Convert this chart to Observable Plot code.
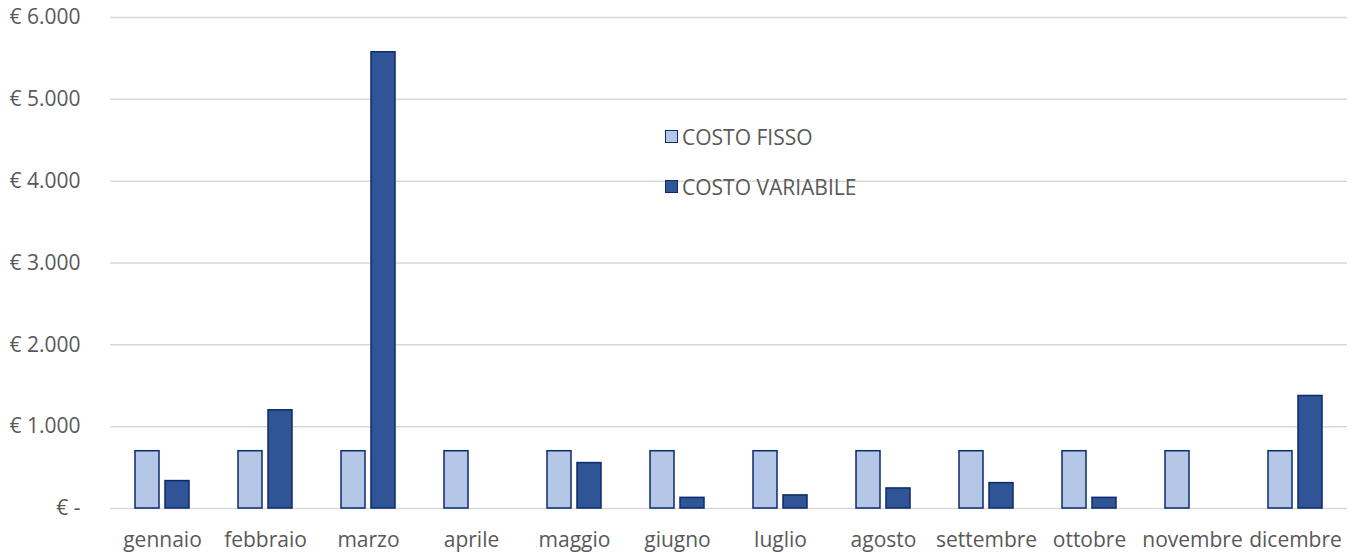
<!DOCTYPE html>
<html>
<head>
<meta charset="utf-8">
<script src="https://cdn.jsdelivr.net/npm/d3@7"></script>
<script src="https://cdn.jsdelivr.net/npm/@observablehq/plot@0.6"></script>
<style>
  html, body { margin: 0; padding: 0; background: #fff; }
  #wrap { position: relative; width: 1354px; height: 553px; font-family: "Open Sans", sans-serif; }
  #legend { position: absolute; left: 665px; top: 123px; color: #595959; font-size: 21px; }
  .item { display: flex; align-items: center; height: 27px; margin-bottom: 23px; }
  .sw { width: 11px; height: 11px; border: 1.5px solid #0B2A6B; margin-right: 4px; }
</style>
</head>
<body>
<div id="wrap"></div>
<script>
const months = ["gennaio","febbraio","marzo","aprile","maggio","giugno","luglio","agosto","settembre","ottobre","novembre","dicembre"];
const costoFisso = [700,700,700,700,700,700,700,700,700,700,700,700];
const costoVariabile = [335,1200,5575,0,555,130,160,245,310,130,0,1375];
const series = ["COSTO FISSO","COSTO VARIABILE"];
const colors = ["#B4C7E7","#2F5597"];
const yTicks = [0,1000,2000,3000,4000,5000,6000];

const fisso = months.map((m,i) => ({month: m, value: costoFisso[i], series: series[0]}));
const variabile = months.map((m,i) => ({month: m, value: costoVariabile[i], series: series[1]}));

const fmt = v => v === 0 ? "€ -" : "€ " + d3.format(",")(v).replace(/,/g, ".");

const chart = Plot.plot({
  width: 1354,
  height: 553,
  marginLeft: 110,
  marginRight: 7,
  marginTop: 17,
  marginBottom: 45,
  style: {fontFamily: "'Open Sans', sans-serif", fontSize: "21px", color: "#595959", background: "#fff"},
  x: {domain: months, paddingInner: 0.475, paddingOuter: 0.2375, label: null},
  y: {domain: [0,6000], ticks: yTicks, tickFormat: fmt, label: null},
  color: {domain: series, range: colors},
  marks: [
    Plot.gridY(yTicks, {stroke: "#d9d9d9", strokeOpacity: 1, strokeWidth: 1.5}),
    Plot.barY(fisso, {x: "month", y: "value", fill: "series", stroke: "#0B2A6B", strokeWidth: 1.5, insetRight: 30}),
    Plot.barY(variabile, {x: "month", y: "value", fill: "series", stroke: "#0B2A6B", strokeWidth: 1.5, insetLeft: 30}),
    Plot.axisX({tickSize: 0, tickPadding: 24, fontSize: 21, fill: "#595959"}),
    Plot.axisY({ticks: yTicks, tickFormat: fmt, tickSize: 0, tickPadding: 30, fontSize: 21, fill: "#595959"})
  ]
});

const wrap = document.getElementById("wrap");
wrap.appendChild(chart);

const legend = document.createElement("div");
legend.id = "legend";
series.forEach((s, i) => {
  const it = document.createElement("div");
  it.className = "item";
  const sw = document.createElement("div");
  sw.className = "sw";
  sw.style.background = colors[i];
  const t = document.createElement("span");
  t.textContent = s;
  it.appendChild(sw);
  it.appendChild(t);
  legend.appendChild(it);
});
wrap.appendChild(legend);
</script>
</body>
</html>
